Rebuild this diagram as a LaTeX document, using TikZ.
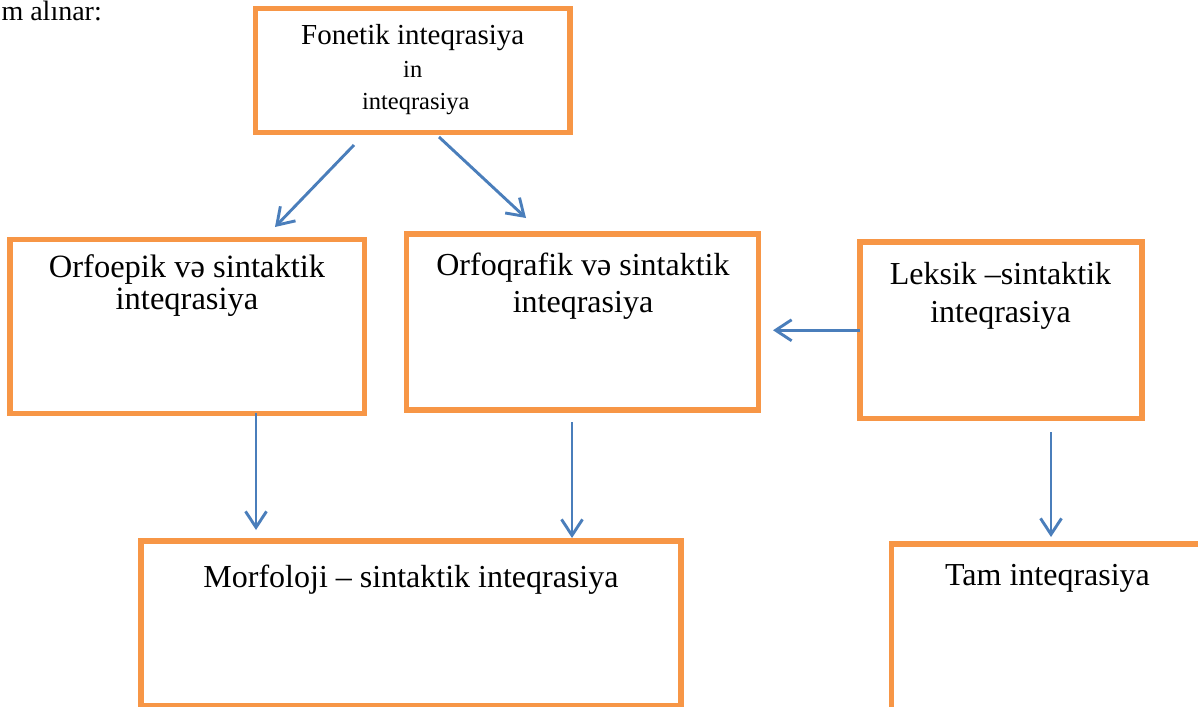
\documentclass[tikz,border=0pt]{standalone}
\usepackage{fontspec}
\setmainfont{Liberation Serif}
\usetikzlibrary{arrows.meta,calc}
\definecolor{boxorange}{HTML}{F79646}
\definecolor{arrowblue}{HTML}{4A7EBB}
\newcommand{\fsz}[2]{\fontsize{#1}{#2}\selectfont}
\begin{document}
\begin{tikzpicture}[x=1pt,y=-1pt,
  frame/.style={draw=boxorange, line width=5.5pt, rectangle, inner sep=0pt, outer sep=0pt},
  txt/.style={anchor=base, inner sep=0pt, outer sep=0pt, text=black},
  arr/.style={draw=arrowblue, line width=2.9pt, -{Straight Barb[length=16pt,width=21pt]}}]
\useasboundingbox (0,0) rectangle (1198,706);
\clip (0,0) rectangle (1198,706);
% intro text (cropped)
\node[anchor=base east, inner sep=0pt] (intro) at (102,21) {\fsz{28}{32}m alınar:};
% boxes
\node[frame, minimum width=314.5pt, minimum height=124pt] (top) at (412.75,70.5) {};
\node[frame, minimum width=354.5pt, minimum height=173.8pt] (orfo) at (187.25,326.4) {};
\node[frame, minimum width=351.8pt, minimum height=176.2pt] (orfq) at (582.6,321.9) {};
\node[frame, minimum width=282pt, minimum height=176.5pt] (leks) at (1001,330.25) {};
\node[frame, minimum width=540pt, minimum height=165pt] (morf) at (411,623.5) {};
\node[frame, minimum width=368.3pt, minimum height=226pt] (tam) at (1075.85,657) {};
% texts
\node[txt] (ttop) at (412.75,45) {\parbox[t]{300pt}{\centering\fsz{29}{33}Fonetik inteqrasiya\par
  \fsz{24.5}{32.5}in\par\hspace*{6pt}inteqrasiya\par}};
\node[txt] (torfo) at (187,277) {\parbox[t]{340pt}{\centering\fsz{32.5}{32}Orfoepik və sintaktik\par inteqrasiya\par}};
\node[txt] (torfq) at (583,275) {\parbox[t]{340pt}{\centering\fsz{32}{37}Orfoqrafik və sintaktik\par inteqrasiya\par}};
\node[txt] (tleks) at (1000.5,284) {\parbox[t]{270pt}{\centering\fsz{32}{38}Leksik –sintaktik\par inteqrasiya\par}};
\node[txt] (tmorf) at (411,587) {\fsz{32}{38}Morfoloji – sintaktik inteqrasiya};
\node[txt] (ttam) at (1047.5,585) {\fsz{32}{38}Tam inteqrasiya};
% arrows
\draw[arr] ([xshift=-58.75pt,yshift=-12.5pt]top.south) -- ([xshift=87.75pt,yshift=12.5pt]orfo.north);
\draw[arr] ([xshift=26.25pt,yshift=-4.5pt]top.south) -- ([xshift=-56.6pt,yshift=15.8pt]orfq.north);
\draw[arr] (leks.west) -- ([xshift=14.5pt]orfq.east |- leks.west);
\draw[arr] ([xshift=68.75pt]orfo.south) -- ([xshift=-155pt,yshift=11pt]morf.north);
\draw[arr] ([xshift=-10.6pt,yshift=-12pt]orfq.south) -- ([xshift=161pt,yshift=3pt]morf.north);
\draw[arr] ([xshift=50pt,yshift=-13.5pt]leks.south) -- ([xshift=-24.85pt,yshift=7pt]tam.north);
\end{tikzpicture}
\end{document}
